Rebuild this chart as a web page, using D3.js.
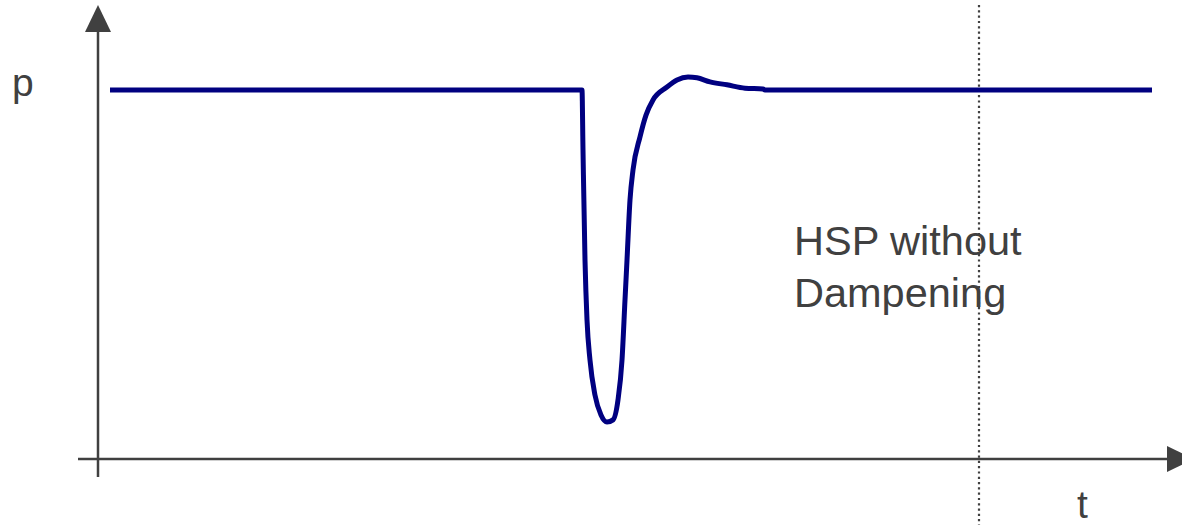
<!DOCTYPE html>
<html>
<head>
<meta charset="utf-8">
<script src="https://cdn.jsdelivr.net/npm/d3@7"></script>
<style>
  body { margin: 0; background: #fff; }
  text { font-family: "Liberation Sans", Arial, sans-serif; fill: #404040; }
</style>
</head>
<body>
<svg id="chart"></svg>
<script>
var width = 1182, height = 525;

// time (arbitrary units) and pressure (normalised, 1 = steady)
var times = [1.2, 48.4, 48.5, 48.7, 48.9, 49.2, 49.7, 50.3, 50.9, 51.5, 52.0, 52.4, 52.7, 52.9,
  53.2, 53.5, 54.2, 54.8, 55.5, 56.9, 57.9, 59.0, 59.9, 61.2, 62.9, 64.7, 66.5, 66.7, 105.4];
var pressure = [1.0, 1.0, 0.837, 0.539, 0.377, 0.268, 0.173, 0.119, 0.100, 0.106, 0.160, 0.268, 0.431, 0.539,
  0.702, 0.783, 0.873, 0.932, 0.973, 1.008, 1.027, 1.035, 1.033, 1.022, 1.014, 1.005, 1.003, 1.0, 1.0];
var markerTime = 88.1;
var labelLines = ["HSP without", "Dampening"];

var svg = d3.select("#chart")
  .attr("width", width)
  .attr("height", height);

var x = d3.scaleLinear().domain([0, 107]).range([98, 1168]);
var y = d3.scaleLinear().domain([0, 1]).range([459, 90]);

// axes
svg.append("line")
  .attr("x1", x(0)).attr("x2", x(0))
  .attr("y1", 477).attr("y2", 32)
  .attr("stroke", "#404040").attr("stroke-width", 2.5);
svg.append("path")
  .attr("d", "M" + (x(0) - 13) + ",32 L" + (x(0) + 13) + ",32 L" + x(0) + ",5 Z")
  .attr("fill", "#404040");

svg.append("line")
  .attr("x1", 78).attr("x2", 1167)
  .attr("y1", y(0)).attr("y2", y(0))
  .attr("stroke", "#404040").attr("stroke-width", 2.5);
svg.append("path")
  .attr("d", "M1167," + (y(0) - 13) + " L1167," + (y(0) + 13) + " L1194," + y(0) + " Z")
  .attr("fill", "#404040");

// dotted marker line
svg.append("line")
  .attr("x1", x(markerTime)).attr("x2", x(markerTime))
  .attr("y1", 5).attr("y2", height)
  .attr("stroke", "#404040").attr("stroke-width", 2.2)
  .attr("stroke-dasharray", "2.2,3.1");

// pressure curve
var pts = times.map((t, i) => [t, pressure[i]]);
var line = d3.line()
  .x(d => x(d[0]))
  .y(d => y(d[1]))
  .curve(d3.curveMonotoneX);

svg.append("path")
  .datum(pts)
  .attr("d", line)
  .attr("fill", "none")
  .attr("stroke", "#000080")
  .attr("stroke-width", 5)
  .attr("stroke-linejoin", "round");

// labels
svg.append("text")
  .attr("x", 12).attr("y", 96)
  .style("font-size", "39px")
  .text("p");

svg.append("text")
  .attr("x", 1077).attr("y", 518)
  .style("font-size", "39px")
  .text("t");

svg.append("text")
  .attr("x", 794).attr("y", 255)
  .style("font-size", "41.5px")
  .selectAll("tspan")
  .data(labelLines)
  .enter()
  .append("tspan")
  .attr("x", 794)
  .attr("dy", (d, i) => i == 0 ? 0 : 52)
  .text(d => d);
</script>
</body>
</html>
